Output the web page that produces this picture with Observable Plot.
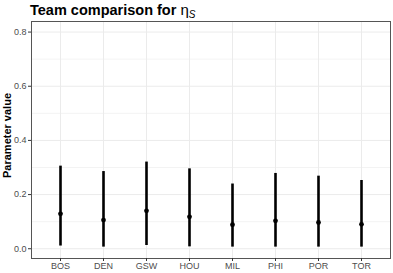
<!DOCTYPE html>
<html>
<head>
<meta charset="utf-8">
<script src="https://cdn.jsdelivr.net/npm/d3@7"></script>
<script src="https://cdn.jsdelivr.net/npm/@observablehq/plot@0.6"></script>
<style>
  html, body { margin: 0; padding: 0; background: #fff; }
  #wrap { position: relative; width: 393px; height: 273px; overflow: hidden; font-family: "Liberation Sans", Arial, sans-serif; }
  #title { position: relative; height: 18px; }
  #title span.t { position: absolute; left: 30px; top: 3px; font-size: 14.5px; line-height: 14px; font-weight: bold; color: #000; white-space: nowrap; }
  #title .eta { font-weight: normal; font-size: 15px; }
  #title sub { font-style: italic; font-weight: normal; font-size: 10px; vertical-align: -3px; line-height: 0; }
  svg { display: block; }
</style>
</head>
<body>
<div id="wrap">
  <div id="title"><span class="t">Team comparison for <span class="eta">η<sub>S</sub></span></span></div>
</div>
<script>
const teams = ["BOS", "DEN", "GSW", "HOU", "MIL", "PHI", "POR", "TOR"];
const estimate = [0.129, 0.106, 0.140, 0.118, 0.089, 0.103, 0.097, 0.090];
const lower = [0.010, 0.006, 0.012, 0.007, 0.006, 0.006, 0.006, 0.006];
const upper = [0.305, 0.285, 0.320, 0.295, 0.239, 0.278, 0.268, 0.252];
const yTicks = [0, 0.2, 0.4, 0.6, 0.8];
const yMinor = [0.1, 0.3, 0.5, 0.7];

const data = teams.map((t, i) => ({team: t, est: estimate[i], lo: lower[i], hi: upper[i]}));

const chart = Plot.plot({
  width: 393,
  height: 255,
  marginTop: 3,
  marginBottom: 15,
  marginLeft: 31,
  marginRight: 3,
  style: {fontFamily: "'Liberation Sans', Arial, sans-serif", background: "#fff", overflow: "visible"},
  x: {type: "point", domain: teams, padding: 0.6},
  y: {domain: [-0.036, 0.839]},
  marks: [
    Plot.gridY(yMinor, {stroke: "#ebebeb", strokeOpacity: 1, strokeWidth: 0.6}),
    Plot.gridY(yTicks, {stroke: "#ebebeb", strokeOpacity: 1, strokeWidth: 1}),
    Plot.gridX(teams, {stroke: "#ebebeb", strokeOpacity: 1, strokeWidth: 1}),
    Plot.ruleX(data, {x: "team", y1: "lo", y2: "hi", stroke: "#000", strokeWidth: 2.6}),
    Plot.dot(data, {x: "team", y: "est", r: 2.4, fill: "#000", stroke: null}),
    Plot.frame({stroke: "#555", strokeWidth: 1}),
    Plot.axisX(teams, {tickSize: 3, tickPadding: 1, fontSize: 9, fill: "#4d4d4d", stroke: "#333", label: null}),
    Plot.axisY(yTicks, {tickSize: 3, tickPadding: 2, fontSize: 9, fill: "#4d4d4d", stroke: "#333", tickFormat: d3.format(".1f"), label: null}),
    Plot.text(["Parameter value"], {frameAnchor: "left", textAnchor: "middle", rotate: -90, dx: -24, dy: -4.5, fontSize: 11, fontWeight: "bold", fill: "#000"})
  ]
});
document.getElementById("wrap").appendChild(chart);
</script>
</body>
</html>
